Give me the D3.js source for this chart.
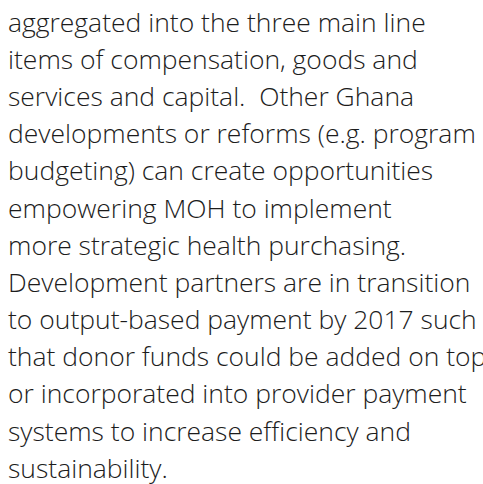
<!DOCTYPE html>
<html>
<head>
  <script src="https://d3js.org/d3.v7.min.js"></script>
  <style>
    body { margin: 0; background: #fff; }
    .para text {
      font-family: "Open Sans", "Noto Sans", sans-serif;
      font-weight: 300;
      fill: #1c1c1c;
    }
  </style>
</head>
<body>
<div id="chart-container"></div>
<script>
  var lines = [
    "aggregated into the three main line",
    "items of compensation, goods and",
    "services and capital.  Other Ghana",
    "developments or reforms (e.g. program",
    "budgeting) can create opportunities",
    "empowering MOH to implement",
    "more strategic health purchasing.",
    "Development partners are in transition",
    "to output-based payment by 2017 such",
    "that donor funds could be added on top",
    "or incorporated into provider payment",
    "systems to increase efficiency and",
    "sustainability."
  ];

  var width = 483;
  var height = 484;
  var left = 8;
  var firstBaseline = 31.7;
  var lastBaseline = 477.7;

  var svg = d3.select("#chart-container")
    .append("svg")
    .attr("width", width)
    .attr("height", height);

  var yScale = d3.scaleLinear()
    .domain([0, lines.length - 1])
    .range([firstBaseline, lastBaseline]);

  var g = svg.append("g").attr("class", "para");

  var rows = g.selectAll("text")
    .data(lines)
    .enter().append("text")
    .attr("x", left)
    .attr("y", function(d, i) { return yScale(i); })
    .style("white-space", "pre")
    .attr("xml:space", "preserve")
    .style("font-size", "28px")
    .text(function(d) { return d; });

  // fit the widest reference line ("developments ... program") to ~468px
  var probe = rows.filter(function(d, i) { return i === 3; }).node();
  var w = probe.getComputedTextLength();
  var size = 28 * 468 / w;
  rows.style("font-size", size + "px");
</script>
</body>
</html>
